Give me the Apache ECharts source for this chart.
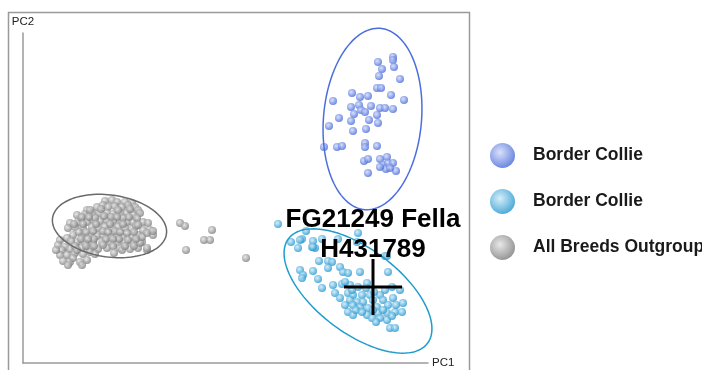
<!DOCTYPE html>
<html>
<head>
<meta charset="utf-8">
<title>PCA - Border Collie</title>
<script src="https://cdn.jsdelivr.net/npm/echarts@6/dist/echarts.min.js"></script>
<style>
  html, body { margin: 0; padding: 0; background: #fff; }
  #chart { width: 702px; height: 370px; }
</style>
</head>
<body>
<div id="chart"></div>
<script>
// PC scores (arbitrary units, origin at the axis corner)
const groupNames = ["Border Collie", "Border Collie ", "All Breeds Outgroup"];

const borderCollieA = [
  [370, 306], [370, 303], [371, 296], [355, 301], [359, 294], [356, 287], [377, 284], [354, 275],
  [358, 275], [368, 268], [381, 263], [310, 262], [329, 270], [337, 266], [345, 267], [328, 256],
  [336, 258], [348, 257], [357, 255], [362, 255], [370, 254], [331, 249], [338, 253], [342, 251],
  [354, 248], [316, 245], [328, 242], [346, 243], [355, 240], [306, 237], [330, 232], [343, 234],
  [301, 216], [314, 216], [319, 217], [342, 220], [342, 216], [354, 217], [341, 202], [345, 204],
  [357, 204], [364, 206], [360, 198], [365, 200], [370, 200], [363, 194], [373, 192], [345, 190],
  [357, 196], [367, 195]
];

const borderCollieB = [
  [255, 139], [268, 121], [275, 115], [279, 124], [283, 132], [290, 122], [292, 115], [289, 116],
  [299, 124], [315, 124], [335, 130], [334, 121], [362, 107], [296, 102], [305, 102], [309, 101],
  [317, 96], [320, 91], [325, 90], [337, 91], [365, 91], [277, 93], [280, 88], [279, 85],
  [290, 92], [295, 84], [299, 75], [310, 78], [312, 70], [319, 79], [327, 78], [335, 76],
  [344, 80], [362, 73], [369, 76], [377, 73], [325, 70], [330, 68], [339, 68], [347, 68],
  [357, 68], [327, 63], [334, 61], [340, 61], [350, 63], [360, 63], [370, 65], [330, 58],
  [337, 56], [345, 55], [354, 56], [365, 58], [380, 60], [325, 51], [330, 48], [344, 48],
  [355, 50], [364, 50], [372, 51], [379, 51], [364, 43], [367, 35], [372, 35], [357, 45],
  [350, 53], [322, 81], [329, 73], [343, 75], [351, 71], [333, 53], [339, 51], [349, 45],
  [360, 53], [373, 58], [317, 65], [322, 58], [353, 41], [369, 47], [277, 123], [290, 116],
  [305, 95], [364, 107]
];

const outgroup = [
  [82, 162], [89, 163], [94, 161], [102, 161], [109, 160],
  [64, 153], [74, 156], [80, 158], [85, 156], [92, 157], [99, 156], [105, 158], [112, 156], [115, 153],
  [54, 148], [62, 149], [69, 150], [77, 150], [84, 150], [90, 149], [97, 150], [104, 150], [110, 148], [117, 150],
  [47, 140], [55, 141], [64, 141], [70, 143], [77, 142], [84, 143], [90, 142], [97, 143], [104, 141], [110, 141],
  [120, 141], [125, 140],
  [45, 135], [52, 136], [60, 135], [69, 136], [75, 135], [82, 136], [89, 135], [95, 136], [102, 135], [109, 134],
  [120, 133], [127, 133], [130, 128],
  [50, 128], [59, 127], [67, 128], [74, 127], [80, 128], [87, 126], [94, 128], [100, 126], [109, 126], [115, 128],
  [124, 130],
  [37, 123], [44, 125], [54, 121], [62, 120], [70, 121], [79, 120], [87, 121], [94, 120], [102, 121], [110, 120],
  [119, 121],
  [35, 118], [42, 116], [39, 113], [47, 114], [59, 115], [67, 114], [75, 114], [84, 115], [97, 115], [107, 114],
  [115, 115], [124, 113],
  [37, 108], [44, 108], [52, 110], [60, 109], [67, 111], [99, 113],
  [40, 102], [47, 101], [57, 101], [64, 103], [45, 98], [59, 98],
  [72, 145], [88, 146], [100, 145], [80, 132], [92, 132], [104, 130], [71, 124], [96, 124], [113, 137], [58, 145],
  [130, 132], [124, 115], [117, 120],
  [67, 153], [78, 154], [95, 153], [107, 154], [59, 146], [66, 146], [81, 147], [94, 146], [106, 146], [114, 145],
  [51, 139], [60, 139], [73, 139], [87, 139], [100, 139], [115, 138], [56, 131], [63, 131], [70, 132], [85, 131],
  [97, 131], [111, 131], [119, 126], [48, 122], [58, 124], [65, 124], [83, 124], [90, 124], [105, 123], [113, 124],
  [52, 117], [63, 117], [71, 117], [80, 118], [90, 117], [102, 117], [111, 117], [72, 109], [91, 110], [50, 105],
  [54, 113], [33, 113]
];

const outgroupFar = [
  [157, 140], [162, 137], [189, 133], [181, 123], [187, 123], [163, 113], [223, 105]
];

// confidence ellipses: [centreX, centreY, semiMajor, semiMinor, angleDeg]
const ellipseA = [[349.5, 244, 91, 49, 85]];
const ellipseB = [[335, 72, 87, 42, -37]];
const ellipseOut = [[86.5, 137, 57.5, 31, -8]];

// the sample of interest
const sample = [[350, 76]];
const sampleLabel = "FG21249 Fella\nH431789";

const FONT = '"Liberation Sans", Arial, Helvetica, sans-serif';

function sphere(light, dark) {
  return {
    type: "radial", x: 0.4, y: 0.38, r: 0.62,
    colorStops: [{ offset: 0, color: light }, { offset: 1, color: dark }],
  };
}

function renderEllipse(params, api) {
  const cx = api.value(0), cy = api.value(1), a = api.value(2), b = api.value(3);
  const rot = (api.value(4) * Math.PI) / 180;
  const pts = [];
  for (let i = 0; i <= 120; i++) {
    const t = (i / 120) * Math.PI * 2;
    const x = cx + a * Math.cos(t) * Math.cos(rot) - b * Math.sin(t) * Math.sin(rot);
    const y = cy + a * Math.cos(t) * Math.sin(rot) + b * Math.sin(t) * Math.cos(rot);
    pts.push(api.coord([x, y]));
  }
  return {
    type: "polyline",
    shape: { points: pts },
    style: { fill: "none", stroke: api.visual("color"), lineWidth: 1.5 },
  };
}

function renderSample(params, api) {
  const x = api.value(0), y = api.value(1);
  const c = api.coord([x, y]);
  const l = api.coord([x - 29, y]);
  const r = api.coord([x + 29, y]);
  const t = api.coord([x, y + 28]);
  const b = api.coord([x, y - 28]);
  return {
    type: "group",
    children: [
      { type: "line", shape: { x1: l[0], y1: l[1], x2: r[0], y2: r[1] }, style: { stroke: "#000", lineWidth: 3 } },
      { type: "line", shape: { x1: t[0], y1: t[1], x2: b[0], y2: b[1] }, style: { stroke: "#000", lineWidth: 3 } },
      {
        type: "text",
        style: {
          text: sampleLabel, x: c[0], y: c[1] - 22,
          align: "center", verticalAlign: "bottom",
          fontFamily: FONT, fontWeight: "bold", fontSize: 26, lineHeight: 30, fill: "#000",
        },
      },
    ],
  };
}

const chart = echarts.init(document.getElementById("chart"));

const scatterBase = { type: "scatter", symbolSize: 8, z: 3, emphasis: { disabled: true } };
const greySphere = sphere("#e2e2e2", "#7e7e7e");

chart.setOption({
  animation: false,
  backgroundColor: "#fff",
  graphic: [
    {
      type: "rect", z: -1,
      shape: { x: 8.5, y: 12.5, width: 461, height: 370 },
      style: { fill: "none", stroke: "#9a9a9a", lineWidth: 1.5 },
    },
  ],
  grid: { left: 23, top: 33, width: 405, height: 330 },
  xAxis: {
    type: "value", min: 0, max: 405,
    name: "PC1", nameLocation: "end", nameGap: 4,
    nameTextStyle: { fontFamily: FONT, fontSize: 11.5, color: "#222" },
    axisLine: { lineStyle: { color: "#9a9a9a", width: 1.5 } },
    axisTick: { show: false }, axisLabel: { show: false }, splitLine: { show: false },
  },
  yAxis: {
    type: "value", min: 0, max: 330,
    name: "PC2", nameLocation: "end", nameGap: 5,
    nameTextStyle: { fontFamily: FONT, fontSize: 11.5, color: "#222", align: "center" },
    axisLine: { lineStyle: { color: "#9a9a9a", width: 1.5 } },
    axisTick: { show: false }, axisLabel: { show: false }, splitLine: { show: false },
  },
  legend: {
    data: groupNames,
    orient: "vertical",
    left: 485, top: 138,
    icon: "circle",
    itemWidth: 25, itemHeight: 25, itemGap: 21,
    selectedMode: false,
    textStyle: { fontFamily: FONT, fontSize: 17.5, fontWeight: "bold", color: "#1a1a1a", padding: [0, 0, 0, 13] },
  },
  series: [
    { ...scatterBase, name: groupNames[2], data: outgroup, itemStyle: { color: greySphere } },
    { ...scatterBase, name: groupNames[2], data: outgroupFar, itemStyle: { color: greySphere } },
    { ...scatterBase, name: groupNames[0], data: borderCollieA, itemStyle: { color: sphere("#cfdaf8", "#4a6cdb") } },
    { ...scatterBase, name: groupNames[1], data: borderCollieB, itemStyle: { color: sphere("#cdeaf8", "#2597d0") } },
    { type: "custom", name: "ellipseA", renderItem: renderEllipse, data: ellipseA, itemStyle: { color: "#4a6ee0" }, z: 4, silent: true },
    { type: "custom", name: "ellipseB", renderItem: renderEllipse, data: ellipseB, itemStyle: { color: "#1f9ccc" }, z: 4, silent: true },
    { type: "custom", name: "ellipseOut", renderItem: renderEllipse, data: ellipseOut, itemStyle: { color: "#6a6a6a" }, z: 4, silent: true },
    { type: "custom", name: "sample", renderItem: renderSample, data: sample, z: 6, silent: true },
  ],
});
</script>
</body>
</html>
